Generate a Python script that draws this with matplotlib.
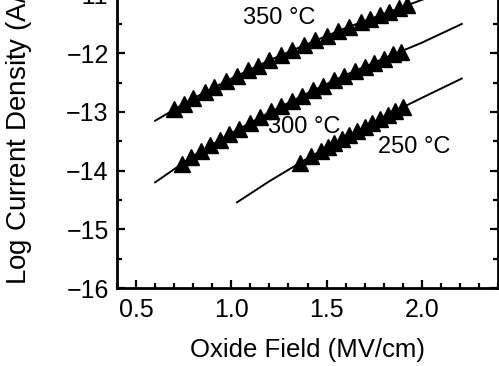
import matplotlib
matplotlib.use('Agg')
import matplotlib.pyplot as plt
from matplotlib.ticker import MultipleLocator, FormatStrFormatter

plt.rcParams['font.family'] = ['Liberation Sans', 'DejaVu Sans']

field_350 = [0.70, 0.75, 0.80, 0.86, 0.91, 0.97, 1.03, 1.09, 1.14, 1.20, 1.26, 1.32,
             1.38, 1.44, 1.50, 1.56, 1.62, 1.68, 1.73, 1.78, 1.83, 1.88, 1.92]
logj_350 = [-12.95, -12.86, -12.77, -12.66, -12.57, -12.47, -12.38, -12.28, -12.21, -12.12,
            -12.03, -11.95, -11.86, -11.78, -11.70, -11.62, -11.55, -11.47, -11.41, -11.35,
            -11.29, -11.23, -11.18]

field_300 = [0.74, 0.79, 0.84, 0.89, 0.94, 0.99, 1.04, 1.10, 1.15, 1.21, 1.26, 1.32,
             1.37, 1.43, 1.48, 1.54, 1.59, 1.65, 1.70, 1.75, 1.80, 1.85, 1.89]
logj_300 = [-13.88, -13.77, -13.67, -13.57, -13.47, -13.38, -13.29, -13.18, -13.09, -12.99,
            -12.90, -12.81, -12.73, -12.63, -12.55, -12.46, -12.39, -12.30, -12.23, -12.16,
            -12.09, -12.02, -11.97]

field_250 = [1.36, 1.42, 1.47, 1.51, 1.54, 1.58, 1.62, 1.66, 1.70, 1.74, 1.78, 1.82, 1.86, 1.90]
logj_250 = [-13.87, -13.75, -13.66, -13.59, -13.53, -13.46, -13.39, -13.32, -13.25, -13.18,
            -13.12, -13.05, -12.98, -12.92]

# fitted curves
fit_x_350 = [0.60, 0.80, 1.00, 1.20, 1.40, 1.60, 1.80, 2.00, 2.20]
fit_y_350 = [-13.15, -12.77, -12.43, -12.12, -11.84, -11.57, -11.33, -11.09, -10.87]
fit_x_300 = [0.60, 0.80, 1.00, 1.20, 1.40, 1.60, 1.80, 2.00, 2.21]
fit_y_300 = [-14.20, -13.75, -13.36, -13.01, -12.68, -12.37, -12.09, -11.82, -11.50]
fit_x_250 = [1.03, 1.20, 1.40, 1.60, 1.80, 2.00, 2.21]
fit_y_250 = [-14.54, -14.18, -13.79, -13.43, -13.08, -12.76, -12.43]

labels = ['350 °C', '300 °C', '250 °C']
label_pos = [(1.25, -11.40), (1.385, -13.26), (1.96, -13.60)]

fig = plt.figure(figsize=(4.99, 3.66), dpi=100)
ax = fig.add_axes([0.2345, 0.2131, 0.7635, 0.962])

for fx, fy in [(fit_x_350, fit_y_350), (fit_x_300, fit_y_300), (fit_x_250, fit_y_250)]:
    ax.plot(fx, fy, color='black', lw=1.4)
for x, y in [(field_350, logj_350), (field_300, logj_300), (field_250, logj_250)]:
    ax.plot(x, y, ls='none', marker='^', ms=11, color='black')

for txt, (tx, ty) in zip(labels, label_pos):
    ax.text(tx, ty, txt, fontsize=17, ha='center', va='center')

ax.set_xlim(0.4, 2.4)
ax.set_ylim(-16, -10)
ax.xaxis.set_major_locator(MultipleLocator(0.5))
ax.xaxis.set_minor_locator(MultipleLocator(0.1))
ax.yaxis.set_major_locator(MultipleLocator(1))
ax.yaxis.set_minor_locator(MultipleLocator(0.5))
ax.xaxis.set_major_formatter(FormatStrFormatter('%.1f'))

for s in ax.spines.values():
    s.set_linewidth(2)
ax.tick_params(which='both', direction='in', top=True, right=True, width=1.6, labelsize=18)
ax.tick_params(which='major', length=6)
ax.tick_params(which='minor', length=3.5)
ax.tick_params(axis='x', pad=7)
ax.tick_params(axis='y', pad=6)

ax.set_xlabel('Oxide Field (MV/cm)', fontsize=18.5, labelpad=12)
ax.set_ylabel('Log Current Density (A/cm$^2$)', fontsize=20)
ax.yaxis.set_label_coords(-0.215, 0.505)

fig.savefig('out.png', dpi=100)
